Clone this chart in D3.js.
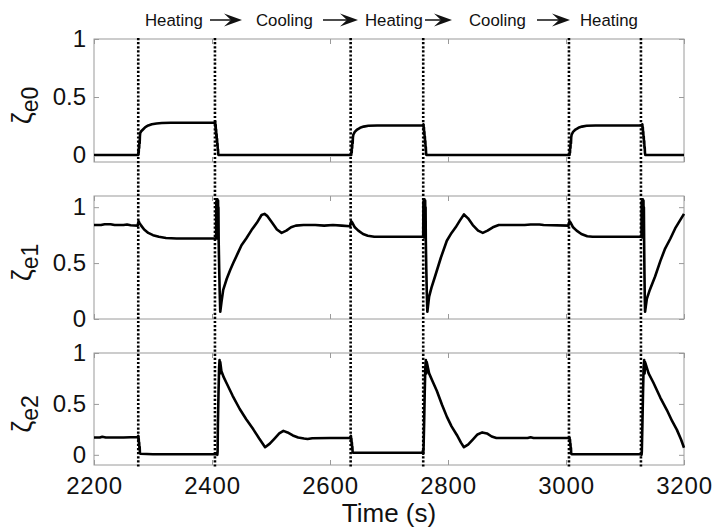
<!DOCTYPE html>
<html>
<head>
<meta charset="utf-8">
<script src="https://cdn.jsdelivr.net/npm/d3@7"></script>
<style>
  body { margin: 0; background: #fff; }
  text { font-family: "Liberation Sans", Arial, Helvetica, sans-serif; fill: #111; }
</style>
</head>
<body>
<svg id="chart" width="714" height="531"></svg>
<script>
// ---- data ----
const timeDomain = [2200, 3200];
const xTicks = [2200, 2400, 2600, 2800, 3000, 3200];
const yTicks = [0, 0.5, 1];
const phaseLabels = ["Heating", "Cooling", "Heating", "Cooling", "Heating"];
const switchTimes = [2275, 2405, 2635, 2758, 3005, 3127];
const seriesNames = ["e0", "e1", "e2"];

// zeta_e0 : [time (s), value]
const zetaE0 = [
  [2200, 0], [2275, 0],
  [2275.4, 0.04], [2275.8, 0.02], [2276.2, 0.08], [2276.6, 0.06], [2277, 0.12], [2277.4, 0.1],
  [2277.8, 0.16], [2278.3, 0.19], [2280, 0.205], [2283, 0.22], [2287, 0.24], [2292, 0.255],
  [2298, 0.265], [2306, 0.272], [2315, 0.276], [2330, 0.278], [2405, 0.278],
  [2405.4, 0.29], [2405.8, 0.24], [2406.2, 0.26], [2406.6, 0.2], [2407, 0.22], [2407.4, 0.16],
  [2407.8, 0.18], [2408.2, 0.12], [2408.6, 0.14], [2409, 0.08], [2409.4, 0.1], [2409.8, 0.04],
  [2410.2, 0.05], [2410.6, 0.01], [2411, 0],
  [2636, 0],
  [2636.4, 0.04], [2636.8, 0.02], [2637.2, 0.08], [2637.6, 0.06], [2638, 0.12], [2638.4, 0.1],
  [2638.8, 0.15], [2639.5, 0.175], [2642, 0.2], [2646, 0.22], [2651, 0.235], [2657, 0.245],
  [2665, 0.252], [2680, 0.255], [2758, 0.255],
  [2758.4, 0.265], [2758.8, 0.22], [2759.2, 0.24], [2759.6, 0.18], [2760, 0.2], [2760.4, 0.14],
  [2760.8, 0.16], [2761.2, 0.1], [2761.6, 0.12], [2762, 0.06], [2762.4, 0.07], [2762.8, 0.02],
  [2763.4, 0],
  [3006, 0],
  [3006.4, 0.04], [3006.8, 0.02], [3007.2, 0.08], [3007.6, 0.06], [3008, 0.12], [3008.4, 0.1],
  [3008.8, 0.15], [3009.5, 0.175], [3012, 0.2], [3016, 0.22], [3021, 0.235], [3027, 0.245],
  [3035, 0.252], [3050, 0.255], [3129, 0.255],
  [3129.4, 0.265], [3129.8, 0.22], [3130.2, 0.24], [3130.6, 0.18], [3131, 0.2], [3131.4, 0.14],
  [3131.8, 0.16], [3132.2, 0.1], [3132.6, 0.12], [3133, 0.06], [3133.4, 0.07], [3133.8, 0.02],
  [3134.4, 0], [3200, 0]
];

// zeta_e1 : [time (s), value]
const zetaE1 = [
  [2200, 0.84], [2212, 0.84], [2218, 0.848], [2228, 0.848], [2235, 0.84], [2250, 0.84],
  [2256, 0.845], [2262, 0.838], [2274, 0.835], [2275.5, 0.875], [2277, 0.86], [2280, 0.835],
  [2285, 0.8], [2292, 0.77], [2300, 0.75], [2310, 0.735], [2322, 0.725], [2340, 0.72], [2407, 0.72],
  [2407.3, 1.05], [2407.6, 0.73], [2407.9, 1.07], [2408.2, 0.72], [2408.5, 1.06], [2408.8, 0.74],
  [2409.1, 1.07], [2409.4, 0.73], [2409.7, 1.05], [2410, 0.72], [2410.3, 1.06], [2410.6, 0.74],
  [2410.9, 1.0], [2411.3, 0.7], [2412.2, 0.45], [2413, 0.25], [2414, 0.065],
  [2416, 0.15], [2419, 0.26], [2425, 0.36], [2431, 0.44], [2436, 0.5], [2443, 0.58], [2450, 0.66],
  [2458, 0.72], [2467, 0.795], [2476, 0.86], [2484, 0.93], [2489, 0.94], [2494, 0.92], [2502, 0.86],
  [2510, 0.8], [2518, 0.77], [2526, 0.79], [2534, 0.82], [2542, 0.835], [2555, 0.84], [2575, 0.84],
  [2590, 0.835], [2605, 0.84], [2620, 0.835], [2634, 0.83], [2636, 0.875], [2638, 0.86],
  [2642, 0.82], [2648, 0.79], [2656, 0.76], [2664, 0.745], [2675, 0.735], [2758, 0.735],
  [2758.3, 1.05], [2758.6, 0.74], [2758.9, 1.07], [2759.2, 0.73], [2759.5, 1.06], [2759.8, 0.75],
  [2760.1, 1.07], [2760.4, 0.74], [2760.7, 1.05], [2761, 0.73], [2761.3, 1.06], [2761.6, 0.75],
  [2762, 1.0], [2762.4, 0.7], [2763.2, 0.45], [2764, 0.25], [2765, 0.065],
  [2768, 0.2], [2772, 0.28], [2778, 0.38], [2788, 0.55], [2798, 0.7], [2806, 0.77], [2813, 0.82],
  [2820, 0.88], [2827, 0.935], [2834, 0.9], [2842, 0.84], [2851, 0.79], [2859, 0.77], [2867, 0.79],
  [2876, 0.82], [2886, 0.84], [2900, 0.84], [2930, 0.84], [2940, 0.845], [2955, 0.845],
  [2962, 0.84], [3004, 0.835], [3006, 0.875], [3008, 0.86], [3012, 0.82], [3018, 0.79],
  [3026, 0.76], [3036, 0.74], [3045, 0.735], [3128, 0.735],
  [3128.3, 1.05], [3128.6, 0.74], [3128.9, 1.07], [3129.2, 0.73], [3129.5, 1.06], [3129.8, 0.75],
  [3130.1, 1.07], [3130.4, 0.74], [3130.7, 1.05], [3131, 0.73], [3131.3, 1.06], [3131.6, 0.75],
  [3132, 1.0], [3132.4, 0.7], [3133, 0.4], [3133.5, 0.2], [3134, 0.065],
  [3137, 0.18], [3142, 0.26], [3151, 0.38], [3160, 0.52], [3168, 0.63], [3177, 0.72],
  [3185, 0.81], [3193, 0.88], [3200, 0.94]
];

// zeta_e2 : [time (s), value]
const zetaE2 = [
  [2200, 0.17], [2210, 0.17], [2214, 0.178], [2220, 0.17], [2250, 0.17], [2274, 0.175], [2275, 0.185],
  [2275.4, 0.14], [2275.8, 0.16], [2276.2, 0.1], [2276.6, 0.12], [2277, 0.06], [2277.4, 0.08],
  [2277.8, 0.02], [2278.5, 0.01], [2300, 0.005], [2408, 0.005],
  [2408.5, 0.02], [2409, 0], [2409.5, 0.03], [2410, 0.3], [2411, 0.6], [2412, 0.85], [2412.8, 0.93],
  [2413.4, 0.8], [2414, 0.91], [2416, 0.82], [2420, 0.76], [2425, 0.7], [2435, 0.58], [2447, 0.45],
  [2458, 0.35], [2470, 0.25], [2480, 0.16], [2490, 0.075], [2498, 0.11], [2506, 0.16], [2514, 0.21],
  [2521, 0.235], [2528, 0.22], [2537, 0.19], [2546, 0.17], [2556, 0.16], [2562, 0.155], [2570, 0.163],
  [2600, 0.165], [2634, 0.168], [2635.5, 0.185],
  [2635.9, 0.14], [2636.3, 0.16], [2636.7, 0.1], [2637.1, 0.12], [2637.5, 0.06], [2637.9, 0.08],
  [2638.3, 0.03], [2639, 0.02], [2660, 0.02], [2757, 0.02],
  [2757.5, 0.04], [2758, 0.01], [2758.5, 0.05], [2759.5, 0.3], [2760.5, 0.6], [2761.5, 0.85],
  [2762.5, 0.93], [2763.2, 0.8], [2764, 0.91], [2768, 0.8], [2774, 0.72], [2781, 0.63], [2790, 0.49],
  [2798, 0.375], [2806, 0.28], [2815, 0.195], [2822, 0.12], [2827, 0.075], [2834, 0.1], [2842, 0.15],
  [2850, 0.2], [2858, 0.22], [2866, 0.21], [2874, 0.18], [2882, 0.165], [2935, 0.165], [2940, 0.173],
  [2945, 0.165], [3005, 0.165],
  [3006, 0.17], [3006.4, 0.13], [3006.8, 0.15], [3007.2, 0.09], [3007.6, 0.11], [3008, 0.05],
  [3008.4, 0.07], [3008.8, 0.01], [3010, 0.005], [3127, 0.005],
  [3127.5, 0.02], [3128, 0], [3128.5, 0.03], [3129.5, 0.3], [3130.5, 0.6], [3131.5, 0.85],
  [3132.5, 0.93], [3133.2, 0.8], [3134, 0.91], [3140, 0.8], [3148, 0.71], [3160, 0.56], [3171, 0.44],
  [3180, 0.33], [3188, 0.245], [3195, 0.15], [3200, 0.07]
];

// ---- layout ----
const W = 714, H = 531;
const plotLeft = 94, plotRight = 684;
const panels = [
  { data: zetaE0, name: seriesNames[0], top: 39,  bottom: 162, domain: [-0.06, 1] },
  { data: zetaE1, name: seriesNames[1], top: 196, bottom: 319, domain: [0, 1.1] },
  { data: zetaE2, name: seriesNames[2], top: 353, bottom: 465, domain: [-0.1, 1] }
];
const frameColor = "#9a9a9a";

const svg = d3.select("#chart");
svg.append("rect").attr("width", W).attr("height", H).attr("fill", "#fff");

const x = d3.scaleLinear().domain(timeDomain).range([plotLeft, plotRight]);

// phase header: label -> label -> ...
const header = svg.append("g").attr("class", "phases");
const labelX = [145, 256, 365, 469, 580];
const arrowSpans = [[210, 242], [323, 358], [425, 452], [537, 570]];
header.selectAll("text").data(phaseLabels).join("text")
  .attr("x", (d, i) => labelX[i]).attr("y", 26)
  .attr("font-size", 16.8)
  .text(d => d);
arrowSpans.forEach(([a, b]) => {
  const ay = 20;
  header.append("line").attr("x1", a).attr("x2", b - 8).attr("y1", ay).attr("y2", ay)
    .attr("stroke", "#111").attr("stroke-width", 1.5);
  header.append("path")
    .attr("d", `M${b},${ay} L${b - 18},${ay - 6.5} L${b - 11},${ay} L${b - 18},${ay + 6.5} Z`)
    .attr("fill", "#111");
});

panels.forEach(p => {
  const y = d3.scaleLinear().domain(p.domain).range([p.bottom, p.top]);
  const g = svg.append("g");
  const isLast = p === panels[panels.length - 1];

  // inward ticks on all four sides
  const left = g.append("g").attr("transform", `translate(${plotLeft},0)`)
    .call(d3.axisLeft(y).tickValues(yTicks).tickSize(-5).tickPadding(8).tickFormat(d => String(d)));
  const right = g.append("g").attr("transform", `translate(${plotRight},0)`)
    .call(d3.axisRight(y).tickValues(yTicks).tickSize(-5).tickFormat(""));
  const top = g.append("g").attr("transform", `translate(0,${p.top})`)
    .call(d3.axisTop(x).tickValues(xTicks).tickSize(-5).tickFormat(""));
  const bottom = g.append("g").attr("transform", `translate(0,${p.bottom})`)
    .call(d3.axisBottom(x).tickValues(xTicks).tickSize(-5).tickPadding(12)
      .tickFormat(isLast ? (d => String(d)) : ""));
  [left, right, top, bottom].forEach(ax => {
    ax.select(".domain").remove();
    ax.selectAll(".tick line").attr("stroke", frameColor);
    ax.selectAll("text").attr("fill", "#111").attr("font-size", 24)
      .attr("font-family", '"Liberation Sans", Arial, sans-serif');
  });
  bottom.selectAll("text").attr("letter-spacing", 0.8);

  g.append("rect")
    .attr("x", plotLeft).attr("y", p.top)
    .attr("width", plotRight - plotLeft).attr("height", p.bottom - p.top)
    .attr("fill", "none").attr("stroke", frameColor).attr("stroke-width", 1);

  p.y = y;
  p.g = g;

  // y label: zeta with subscript
  const cy = (p.top + p.bottom) / 2;
  const lab = g.append("text")
    .attr("transform", `translate(31,${cy + 5}) rotate(-90)`)
    .attr("text-anchor", "middle");
  lab.append("tspan").attr("font-size", 27).text("ζ");
  lab.append("tspan").attr("font-size", 23).attr("dy", 7).text(p.name);
});

// phase switching instants (dotted)
svg.append("g").selectAll("line").data(switchTimes).join("line")
  .attr("x1", d => x(d)).attr("x2", d => x(d))
  .attr("y1", 38).attr("y2", 468)
  .attr("stroke", "#000").attr("stroke-width", 2.6)
  .attr("stroke-dasharray", "2.2,1.9");

// curves
panels.forEach(p => {
  const line = d3.line().x(d => x(d[0])).y(d => p.y(d[1]));
  p.g.append("path").datum(p.data)
    .attr("d", line)
    .attr("fill", "none").attr("stroke", "#000")
    .attr("stroke-width", 2.6).attr("stroke-linejoin", "round");
});

// x axis title
svg.append("text").attr("x", 389).attr("y", 522)
  .attr("text-anchor", "middle").attr("font-size", 26)
  .text("Time (s)");
</script>
</body>
</html>
